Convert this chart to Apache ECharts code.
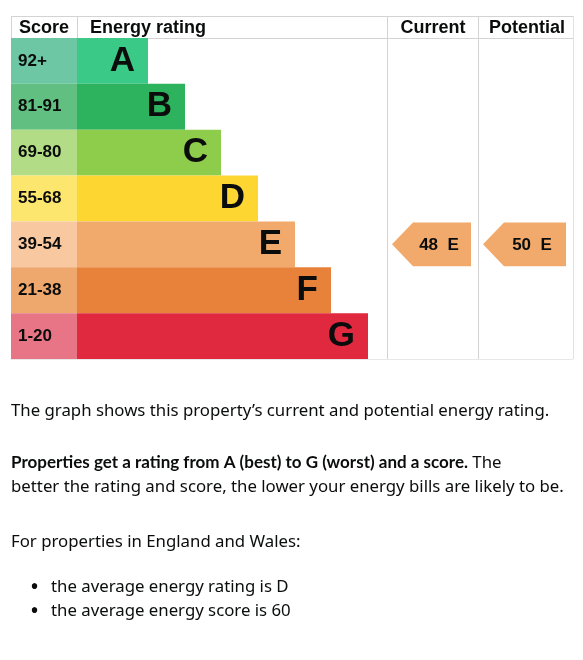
<!DOCTYPE html>
<html>
<head>
<meta charset="utf-8">
<script src="https://cdn.jsdelivr.net/npm/echarts@6/dist/echarts.min.js"></script>
<style>
  html, body { margin: 0; padding: 0; background: #fff; }
  #chart { width: 583px; height: 660px; }
</style>
</head>
<body>
<div id="chart"></div>
<script>
// ---- data ----
const ratings = ['A', 'B', 'C', 'D', 'E', 'F', 'G'];
const scoreBands = ['92+', '81-91', '69-80', '55-68', '39-54', '21-38', '1-20'];
const bandMin = [92, 81, 69, 55, 39, 21, 1];
const barLengths = [71, 108, 144, 181, 218, 254, 291];
const barColors = ['#3bc987', '#2db35d', '#8ecd4b', '#fdd632', '#f2aa6c', '#e8823a', '#e0293f'];
const scoreColors = ['#6dc6a4', '#60bf81', '#b3dc86', '#fde66d', '#f8c8a1', '#eea76c', '#e87586'];
const currentScore = 48;
const potentialScore = 50;
const headers = ['Score', 'Energy rating', 'Current', 'Potential'];

function ratingIndex(score) { return bandMin.findIndex(m => score >= m); }

const HEAD_FONT = "'Liberation Sans', Arial, sans-serif";
const BODY_FONT = "'Noto Sans', sans-serif";
const BOLD_FONT = "Lato, 'Noto Sans', sans-serif";
const INK = '#0b0c0c';

const chart = echarts.init(document.getElementById('chart'), null, { renderer: 'canvas' });

const gTop = 38, gH = 321;
const grids = [
  { left: 11, top: gTop, width: 66, height: gH },
  { left: 77, top: gTop, width: 310, height: gH },
  { left: 387, top: gTop, width: 91, height: gH },
  { left: 478, top: gTop, width: 95, height: gH }
];

function yCat(i) {
  return { type: 'category', gridIndex: i, data: ratings, inverse: true, show: false };
}

function arrowSeries(gridIdx, score) {
  const idx = ratingIndex(score);
  return {
    type: 'custom', xAxisIndex: gridIdx, yAxisIndex: gridIdx,
    data: [[0, idx, score]],
    renderItem: function (params, api) {
      const cs = params.coordSys;
      const c = api.coord([0, api.value(1)]);
      const bandH = api.size([0, 1])[1];
      const y0 = c[1] - bandH / 2 + 1, y1 = c[1] + bandH / 2 - 1;
      const xl = cs.x + 5, xr = cs.x + cs.width - 7;
      const tip = 21;
      return {
        type: 'group',
        children: [
          { type: 'polygon',
            shape: { points: [[xl, c[1]], [xl + tip, y0], [xr, y0], [xr, y1], [xl + tip, y1]] },
            style: { fill: barColors[idx] } },
          { type: 'text',
            style: { text: api.value(2) + '  ' + ratings[idx], x: (xl + tip + xr) / 2 - 3, y: c[1] + 1,
              align: 'center', verticalAlign: 'middle',
              font: 'bold 17px ' + HEAD_FONT, fill: INK } }
        ]
      };
    }
  };
}

const line = (x1, y1, x2, y2, c) => ({ type: 'line', silent: true,
  shape: { x1, y1, x2, y2 }, style: { stroke: c || '#d3d3d3', lineWidth: 1 } });
const headText = (t, x, align) => ({ type: 'text', silent: true,
  style: { text: t, x, y: 28, align, verticalAlign: 'middle', font: 'bold 18px ' + HEAD_FONT, fill: INK } });

const FS = 16.8;
const bodyRich = {
  n: { fontFamily: BODY_FONT, fontSize: FS, fontWeight: 'normal', fill: INK, lineHeight: 24 },
  b: { fontFamily: BOLD_FONT, fontSize: 17, fontWeight: 'bold', fill: INK, lineHeight: 24 },
  d: { fontFamily: BODY_FONT, fontSize: 24, fontWeight: 'normal', fill: INK, lineHeight: 24 }
};
const bodyText = (t, x, y) => ({ type: 'text', silent: true,
  style: { text: t, x, y, verticalAlign: 'middle', rich: bodyRich, fill: INK,
    font: FS + 'px ' + BODY_FONT, lineHeight: 24 } });

const option = {
  animation: false,
  grid: grids,
  xAxis: [
    { type: 'value', gridIndex: 0, min: 0, max: 1, show: false },
    { type: 'value', gridIndex: 1, min: 0, max: 310, show: false },
    { type: 'value', gridIndex: 2, min: 0, max: 1, show: false },
    { type: 'value', gridIndex: 3, min: 0, max: 1, show: false }
  ],
  yAxis: [yCat(0), yCat(1), yCat(2), yCat(3)],
  series: [
    {
      type: 'bar', xAxisIndex: 0, yAxisIndex: 0, barCategoryGap: '0%',
      data: ratings.map((r, i) => ({ value: 1, itemStyle: { color: scoreColors[i] } })),
      label: { show: true, position: 'insideLeft', distance: 7,
        formatter: p => scoreBands[p.dataIndex],
        fontFamily: HEAD_FONT, fontWeight: 'bold', fontSize: 17, color: INK }
    },
    {
      type: 'bar', xAxisIndex: 1, yAxisIndex: 1, barCategoryGap: '0%',
      data: barLengths.map((v, i) => ({ value: v, itemStyle: { color: barColors[i] } })),
      label: { show: true, position: 'insideRight', distance: 13,
        formatter: p => ratings[p.dataIndex],
        fontFamily: HEAD_FONT, fontWeight: 'bold', fontSize: 35, color: INK }
    },
    arrowSeries(2, currentScore),
    arrowSeries(3, potentialScore)
  ],
  graphic: [
    line(11, 16.5, 573, 16.5),
    line(11, 38.5, 573, 38.5),
    line(11.5, 16, 11.5, 38),
    line(77.5, 16, 77.5, 38),
    line(387.5, 16, 387.5, 359),
    line(478.5, 16, 478.5, 359),
    line(573.5, 16, 573.5, 359, '#e2e2e2'),
    line(11, 359.5, 573, 359.5, '#e8e8e8'),
    headText(headers[0], 44, 'center'),
    headText(headers[1], 90, 'left'),
    headText(headers[2], 433, 'center'),
    headText(headers[3], 527, 'center'),
    bodyText('{n|The graph shows this property\u2019s current and potential energy rating.}', 11, 411),
    bodyText('{b|Properties get a rating from A (best) to G (worst) and a score.}{n| The}\n{n|better the rating and score, the lower your energy bills are likely to be.}', 11, 475),
    bodyText('{n|For properties in England and Wales:}', 11, 542),
    bodyText('{d|\u2022}', 30, 588),
    bodyText('{n|the average energy rating is D}', 51, 587),
    bodyText('{d|\u2022}', 30, 612),
    bodyText('{n|the average energy score is 60}', 51, 611)
  ]
};
chart.setOption(option);
</script>
</body>
</html>
